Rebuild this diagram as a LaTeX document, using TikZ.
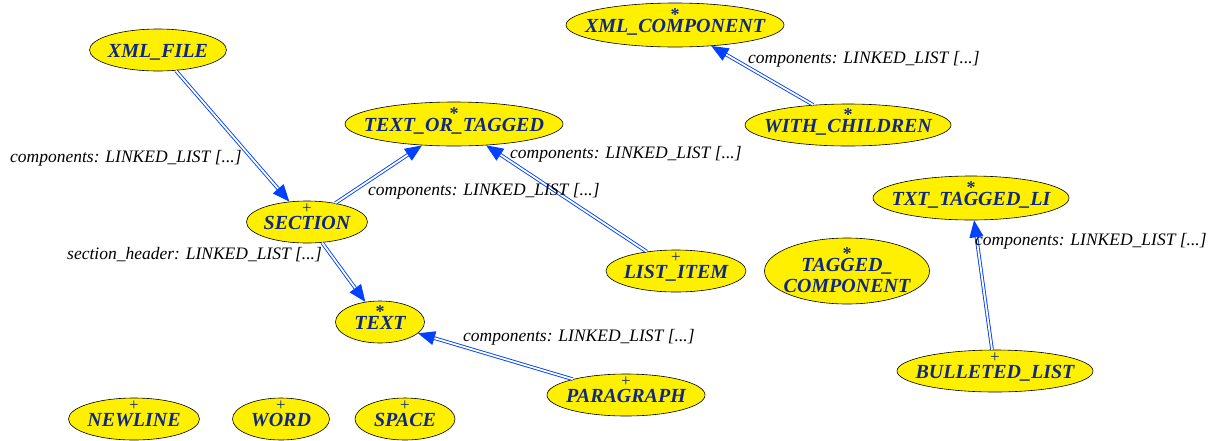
\documentclass[tikz,border=0pt]{standalone}
\usepackage{fontspec}
\setmainfont{Liberation Serif}
\usetikzlibrary{shapes.geometric,arrows.meta}
\definecolor{clsyellow}{RGB}{255,240,0}
\definecolor{clsname}{RGB}{16,40,128}
\definecolor{linkblue}{RGB}{0,64,255}
% class name with a mark centred on top of it
\newcommand{\clsmark}[3]{\ooalign{\hfil\raisebox{#1}[0pt][0pt]{\upshape#2}\hfil\cr #3\cr}}
\newcommand{\eff}[1]{\clsmark{15.5pt}{\fontsize{17}{17}\selectfont\mdseries +}{#1}}% effective
\newcommand{\dfr}[1]{\clsmark{12pt}{\fontsize{18}{18}\selectfont\bfseries *}{#1}}% deferred

\begin{document}
\begin{tikzpicture}[
   x=1pt,y=-1pt,
   class/.style={ellipse,draw=black,line width=0.6pt,fill=clsyellow,text=clsname,
      font=\fontsize{20}{21}\selectfont\bfseries\itshape,align=center,
      inner sep=-100pt,text height=14pt,text depth=0pt,minimum height=42pt},
   link/.style={draw=linkblue,line width=0.9pt,double=white,double distance=1.8pt,
      -{Triangle[length=17pt,width=14pt]}},
   lbl/.style={font=\fontsize{17.5}{18}\selectfont\itshape,anchor=west,inner sep=0pt},
]
\useasboundingbox (0,0) rectangle (1215,440);

% classes
\node[class,minimum width=137pt] (xmlfile) at (158,50) {XML\_FILE};
\node[class,minimum width=218pt,minimum height=44pt] (xmlcomponent) at (675,25) {\dfr{XML\_COMPONENT}};
\node[class,minimum width=206pt] (withchildren) at (848,125) {\dfr{WITH\_CHILDREN}};
\node[class,minimum width=218pt,minimum height=44pt] (textortagged) at (454,124) {\dfr{TEXT\_OR\_TAGGED}};
\node[class,minimum width=121pt] (section) at (307,222) {\eff{SECTION}};
\node[class,minimum width=140pt] (listitem) at (676,271) {\eff{LIST\_ITEM}};
\node[class,minimum width=165pt,minimum height=66pt,text height={},text depth={}] (taggedcomponent) at (847,271)
   {\dfr{TAGGED\_}\rule{0pt}{22pt}\\COMPONENT};
\node[class,minimum width=196pt,minimum height=44pt] (txttaggedli) at (971,198) {\dfr{TXT\_TAGGED\_LI}};
\node[class,minimum width=196pt] (bulletedlist) at (995,371) {\eff{BULLETED\_LIST}};
\node[class,minimum width=89pt] (text) at (380,322) {\dfr{TEXT}};
\node[class,minimum width=158pt] (paragraph) at (626,395) {\eff{PARAGRAPH}};
\node[class,minimum width=131pt] (newline) at (134,419) {\eff{NEWLINE}};
\node[class,minimum width=97pt] (word) at (281,419) {\eff{WORD}};
\node[class,minimum width=100pt] (space) at (405,419) {\eff{SPACE}};

% client links
\draw[link] (xmlfile) -- (section);
\draw[link] (section) -- (textortagged);
\draw[link] (listitem) -- (textortagged);
\draw[link] (withchildren) -- (xmlcomponent);
\draw[link] (section) -- (text);
\draw[link] (paragraph) -- (text);
\draw[link] (bulletedlist) -- (txttaggedli);

% link labels
\node[lbl] (lblfile) at (10,158) {components: LINKED\_LIST [...]};
\node[lbl] (lblsection) at (368,191) {components: LINKED\_LIST [...]};
\node[lbl] (lblitem) at (510,154) {components: LINKED\_LIST [...]};
\node[lbl] (lblchildren) at (748,59) {components: LINKED\_LIST [...]};
\node[lbl] (lblheader) at (67,255) {section\_header: LINKED\_LIST [...]};
\node[lbl] (lblpara) at (463,337) {components: LINKED\_LIST [...]};
\node[lbl] (lblbullet) at (975,241) {components: LINKED\_LIST [...]};
\end{tikzpicture}
\end{document}
